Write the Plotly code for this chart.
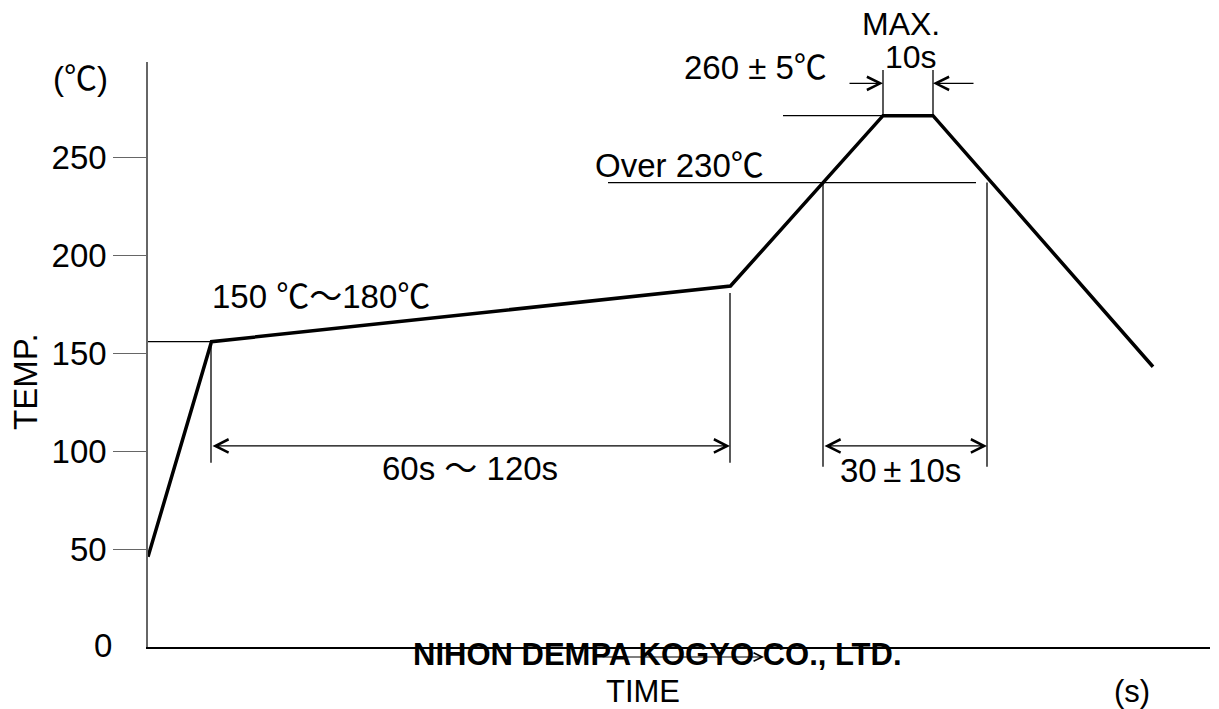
import plotly.graph_objects as go

# ---- data (time in s, temperature in degC) ----
profile_time = [0, 12.7, 116.5, 147, 157, 201]
profile_temp = [46, 155.8, 184.2, 271.1, 271.1, 143]

y_tick_vals = [50, 100, 150, 200, 250]
y_tick_text = ["50", "100", "150", "200", "250"]

preheat_level = 155.8
over_level = 237.0
peak_level = 271.1
soak_start, soak_end = 12.6, 116.4
over_start, over_end = 135.0, 167.8
peak_start, peak_end = 147.0, 157.0
over_line_from, over_line_to = 92.0, 165.6
peak_line_from = 127.0
dim_level = 102.6
dim_bottom = 94.0
soak_end_top = 180.6
peak_dim_top = 294.4
peak_dim_level = 287.6
peak_dim_left, peak_dim_right = 140.0, 165.4

X_RANGE = [0, 212.4]
Y_RANGE = [0, 298.5]

FONT = "Arial, 'Liberation Sans', 'Noto Sans CJK JP', sans-serif"
L, R, T, B = 148, 9, 62, 62
W, H = 1219, 709


def px(x):
    return (x - L) / (W - L - R)


def py(y):
    return (H - B - y) / (H - T - B)


fig = go.Figure()
fig.add_trace(go.Scatter(x=profile_time, y=profile_temp, mode="lines",
                         line=dict(color="black", width=3.5), hoverinfo="skip",
                         showlegend=False))

thin = dict(color="black", width=1.3)
shapes = [
    dict(type="line", x0=0, x1=soak_start, y0=preheat_level, y1=preheat_level, line=thin),
    dict(type="line", x0=soak_start, x1=soak_start, y0=preheat_level, y1=dim_bottom, line=thin),
    dict(type="line", x0=soak_end, x1=soak_end, y0=soak_end_top, y1=dim_bottom, line=thin),
    dict(type="line", x0=over_line_from, x1=over_line_to, y0=over_level, y1=over_level, line=thin),
    dict(type="line", x0=over_start, x1=over_start, y0=over_level, y1=dim_bottom - 2, line=thin),
    dict(type="line", x0=over_end, x1=over_end, y0=over_level, y1=dim_bottom - 2, line=thin),
    dict(type="line", x0=peak_line_from, x1=peak_start, y0=peak_level, y1=peak_level, line=thin),
    dict(type="line", x0=peak_start, x1=peak_start, y0=peak_level, y1=peak_dim_top, line=thin),
    dict(type="line", x0=peak_end, x1=peak_end, y0=peak_level, y1=peak_dim_top, line=thin),
]
for s in shapes:
    s.update(xref="x", yref="y", layer="above")

annotations = []


def arrow(x_from, x_to, yv, both=False):
    a = dict(x=x_to, y=yv, ax=x_from, ay=yv, xref="x", yref="y", axref="x", ayref="y",
             text="", showarrow=True, arrowhead=5, arrowsize=2.0, arrowwidth=1.3,
             arrowcolor="black", standoff=0, startstandoff=0)
    if both:
        a.update(arrowside="end+start", startarrowhead=5, startarrowsize=2.0)
    annotations.append(a)


arrow(soak_start, soak_end, dim_level, both=True)
arrow(over_start, over_end, dim_level, both=True)
arrow(peak_dim_left, peak_start, peak_dim_level)
arrow(peak_dim_right, peak_end, peak_dim_level)


def label(text, x, y, size=33, bold=False, angle=0):
    annotations.append(dict(
        text=("<b>%s</b>" % text) if bold else text, x=px(x), y=py(y),
        xref="paper", yref="paper", showarrow=False, xanchor="center", yanchor="middle",
        textangle=angle, font=dict(family=FONT, size=size, color="black")))


TS = "\u2009"  # thin space
label("(℃)", 80, 78)
label("TEMP.", 25, 382, angle=-90)
label("0", 103, 645)
label("150 ℃～180℃", 321, 296)
label("60s ～ 120s", 470, 468)
label("30" + TS + "±" + TS + "10s", 900, 470)
label("Over 230℃", 679, 165)
label("260 ± 5℃", 755, 68)
label("MAX.", 901, 24, size=32)
label("10s", 911, 57, size=32)
label("NIHON DEMPA KOGYO CO., LTD.", 657, 654, size=31, bold=True)
label("TIME", 643, 691, size=31)
label("(s)", 1132, 691, size=31)

# line through company name (as in source image)
annotations.append(dict(x=px(764), y=py(657), ax=px(601), ay=py(657),
                        xref="x domain", yref="y domain", axref="x domain", ayref="y domain",
                        text="", showarrow=True, arrowhead=5,
                        arrowsize=1.4, arrowwidth=1.2, arrowcolor="black", standoff=0))

fig.update_layout(
    width=W, height=H, margin=dict(l=L, r=R, t=T, b=B),
    plot_bgcolor="white", paper_bgcolor="white",
    shapes=shapes, annotations=annotations, showlegend=False,
    xaxis=dict(range=X_RANGE, showgrid=False, zeroline=False, showticklabels=False,
               showline=True, linecolor="black", linewidth=1.5, ticks=""),
    yaxis=dict(range=Y_RANGE, showgrid=False, zeroline=False, showline=True,
               linecolor="#666666", linewidth=1.5, tickvals=y_tick_vals, ticktext=y_tick_text,
               ticks="outside", ticklen=33, tickcolor="#666666", tickwidth=1.3,
               tickfont=dict(family=FONT, size=33, color="black")),
)

fig.write_html("out.html", config={"displayModeBar": False},
               post_script="document.body.style.margin='0';document.body.style.overflow='hidden';")
